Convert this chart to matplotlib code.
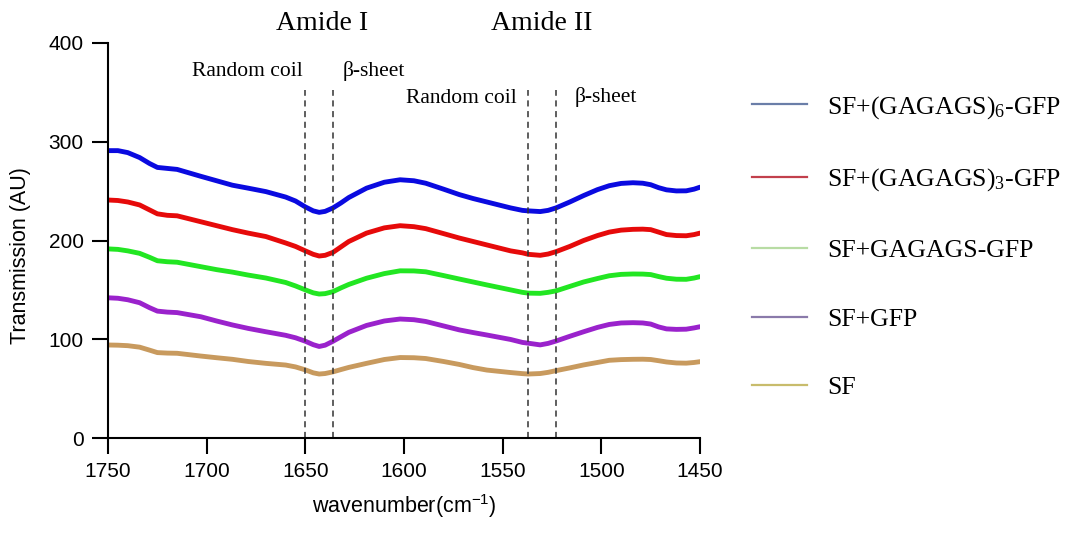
import numpy as np
import matplotlib
matplotlib.use('Agg')
import matplotlib.pyplot as plt
from matplotlib.lines import Line2D

plt.rcParams['font.family'] = 'Liberation Sans'
plt.rcParams['mathtext.fontset'] = 'custom'
plt.rcParams['mathtext.rm'] = 'Liberation Serif'
plt.rcParams['mathtext.default'] = 'regular'

# FTIR transmission spectra, amide I / amide II region
wavenumber = [1750, 1745, 1740, 1734, 1729, 1725, 1720, 1715, 1703, 1695,
              1687, 1679, 1670, 1660, 1655, 1650, 1646, 1643, 1640, 1636,
              1632, 1628, 1619, 1610, 1602, 1595, 1589, 1580, 1572, 1565,
              1558, 1546, 1540, 1537, 1531, 1527, 1523, 1516, 1509, 1502,
              1496, 1490, 1484, 1479, 1475, 1471, 1467, 1462, 1457, 1453,
              1450]

sf_gagags6 = [291, 291, 289, 284, 278, 274, 273, 272, 265, 260.5,
              256, 253, 249.5, 244, 240, 234, 230, 228.5, 229.5, 233,
              238, 243.5, 253, 259, 261.5, 260.5, 258, 252, 246.5, 242.5,
              239, 233, 230.5, 230, 229.3, 230.5, 233, 239, 245.5, 251.5,
              255.5, 257.8, 258.5, 258, 256.5, 253.5, 251.3, 250.2, 250.3, 252,
              254]
sf_gagags3 = [241, 240.5, 239, 236, 231, 227, 225.5, 225, 219, 215,
              211, 207.5, 204, 197.5, 194, 189.5, 186, 184.3, 185, 188,
              193.5, 199, 207.5, 212.8, 215, 214, 212, 207, 202.5, 199,
              195.5, 189.5, 187.5, 186, 185, 186.3, 188.7, 194, 200, 205,
              208.5, 210.5, 211.3, 211.5, 211, 208.5, 206, 205, 204.8, 206,
              207.5]
sf_gagags = [191.5, 191, 189.5, 187, 183, 179.5, 178.5, 178, 173.5, 170.5,
             168, 165, 162, 157.5, 154, 150, 147, 145.8, 146.2, 148.2,
             152, 155.5, 161.8, 166.5, 169.3, 169.2, 168.3, 164.5, 161, 158,
             155, 150, 147.5, 146.7, 146.5, 147.5, 149, 153.5, 158, 161.5,
             164.3, 165.7, 166.1, 166, 165.5, 163.5, 161.8, 160.8, 160.7, 162,
             163.4]
sf_gfp = [142, 141.5, 140, 137, 132, 128.5, 127.5, 127, 122.8, 118.5,
          114.5, 111, 107.6, 104, 101.5, 98, 94.5, 92.7, 94, 98,
          102.5, 107, 114, 118.5, 120.5, 119.8, 118, 113.5, 109.5, 106.8,
          104.3, 99.8, 96.8, 96, 94.3, 95.8, 98.2, 103, 107.6, 112,
          115, 116.5, 116.8, 116.5, 115.4, 112.5, 110.5, 110, 110.2, 111.5,
          112.7]
sf = [94.2, 94, 93.5, 92, 89, 86.5, 86, 85.8, 83, 81.3,
      79.7, 77.5, 75.6, 73.9, 72, 69, 66, 64.8, 65.3, 67,
      69.3, 71.5, 75.6, 79.5, 81.5, 81.3, 80.5, 77.5, 74.5, 71.3,
      68.8, 66.3, 65.2, 64.8, 65.3, 66.5, 68.2, 71, 74, 76.5,
      78.7, 79.4, 79.7, 79.8, 79.5, 78.3, 77, 76, 75.8, 76.5,
      77.3]

series = [sf_gagags6, sf_gagags3, sf_gagags, sf_gfp, sf]
labels = ['SF+(GAGAGS)$_6$-GFP', 'SF+(GAGAGS)$_3$-GFP', 'SF+GAGAGS-GFP', 'SF+GFP', 'SF']
lineColors = ['#0a0ae0', '#e60a0a', '#22e622', '#9a22cc', '#c89a5e']
legendColors = ['#6a7ea8', '#c2404c', '#b8dca4', '#8a7aaa', '#c8bc6c']

# band boundaries (cm-1)
bandLines = [1650, 1636, 1537, 1523]
bandTop = 352

fig = plt.figure(figsize=(10.73, 5.36), dpi=100)
ax = fig.add_axes([0.1007, 0.1828, 0.5517, 0.737])

for y, c in zip(series, lineColors):
    ax.plot(wavenumber, y, color=c, lw=3.5, solid_capstyle='round', solid_joinstyle='round')

ax.vlines(bandLines, 0, bandTop, colors='#333333', linestyles=(0, (4, 3)), lw=1.1)

ax.set_xlim(1750, 1450)
ax.set_ylim(0, 400)
ax.set_xticks([1750, 1700, 1650, 1600, 1550, 1500, 1450])
ax.set_yticks([0, 100, 200, 300, 400])
for s in ['top', 'right']:
    ax.spines[s].set_visible(False)
for s in ['left', 'bottom']:
    ax.spines[s].set_linewidth(1.5)
ax.tick_params(direction='out', length=11.5, width=1.5, labelsize=15, pad=6)

ax.set_xlabel('wavenumber(cm$^{-1}$)', fontsize=15.5, labelpad=8)
ax.set_ylabel('Transmission (AU)', fontsize=15.5)
ax.yaxis.set_label_coords(-0.13, 0.463)

serif = 'Liberation Serif'
ax.text(1641.5, 420, 'Amide I', family=serif, fontsize=20, ha='center', va='center', clip_on=False)
ax.text(1530, 420, 'Amide II', family=serif, fontsize=20, ha='center', va='center', clip_on=False)
ax.text(1679.6, 371.5, 'Random coil', family=serif, fontsize=15.5, ha='center', va='center')
ax.text(1631, 371.5, 'β-sheet', family=serif, fontsize=15.5, ha='left', va='center')
ax.text(1571, 344, 'Random coil', family=serif, fontsize=15.5, ha='center', va='center')
ax.text(1513.3, 345, 'β-sheet', family=serif, fontsize=15.5, ha='left', va='center')

handles = [Line2D([], [], color=c, lw=1.6) for c in legendColors]
fig.legend(handles, labels, loc='upper left', bbox_to_anchor=(0.679, 0.868),
           frameon=False, prop={'family': serif, 'size': 18.5},
           handlelength=2.15, handletextpad=0.8, labelspacing=1.78)

fig.savefig('out.png', dpi=100)
